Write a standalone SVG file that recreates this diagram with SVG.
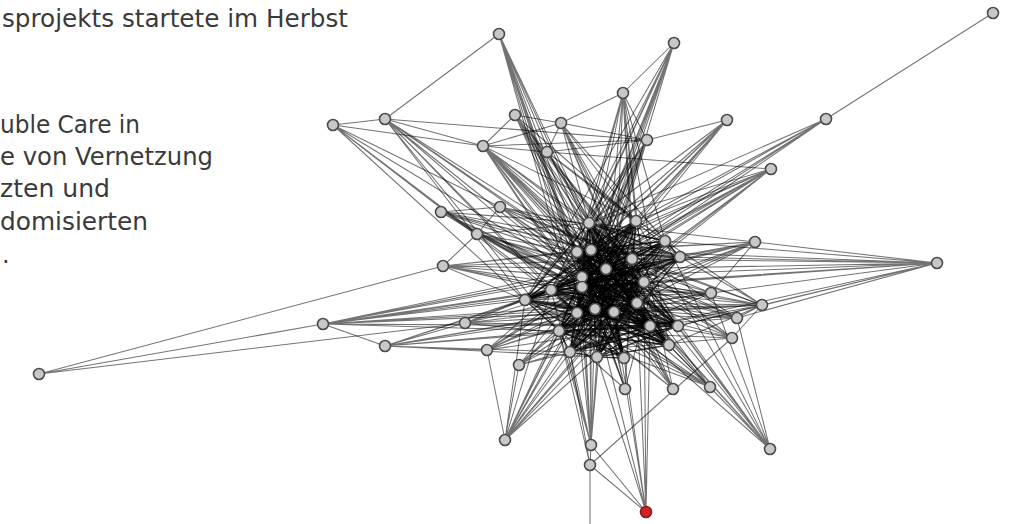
<svg xmlns="http://www.w3.org/2000/svg" width="1011" height="524" viewBox="0 0 1011 524">
<style>
.e{fill:none;stroke:#000;stroke-opacity:0.55;stroke-width:1.05;stroke-linecap:round}
.ei{fill:none;stroke:#000;stroke-opacity:0.75;stroke-width:1.4}
.node circle{fill:#c8c8c8;stroke:#4a4a4a;stroke-width:1.6}
.red circle{fill:#d42027;stroke:#8c1a1a}
.t{font-family:"DejaVu Sans","Liberation Sans",sans-serif;font-size:24px;fill:#3a3a3a}
</style>
<rect width="1011" height="524" fill="#fff"/>
<g id="caption">
<text class="t" x="2" y="27" textLength="346" lengthAdjust="spacingAndGlyphs">sprojekts startete im Herbst</text>
<text class="t" x="0" y="133" textLength="140" lengthAdjust="spacingAndGlyphs">uble Care in</text>
<text class="t" x="0" y="165" textLength="213" lengthAdjust="spacingAndGlyphs">e von Vernetzung</text>
<text class="t" x="0" y="197" textLength="110" lengthAdjust="spacingAndGlyphs">zten und</text>
<text class="t" x="0" y="230" textLength="148" lengthAdjust="spacingAndGlyphs">domisierten</text>
<text class="t" x="2" y="263">.</text>
</g>
<g id="connectors">
<path class="e" d="M993 13L826 119"/>
<path class="e" d="M826 119L589 223M826 119L577 252M826 119L591 250M826 119L606 269M826 119L582 277M826 119L551 290"/>
<path class="e" d="M499 34L385 119M499 34L589 223M499 34L577 252M499 34L591 250M499 34L606 269M499 34L582 277M499 34L582 287M499 34L577 313M499 34L595 309M499 34L597 357M499 34L624 358M499 34L625 389"/>
<path class="e" d="M674 43L623 93M674 43L589 223M674 43L577 252M674 43L591 250M674 43L606 269M674 43L582 277M674 43L582 287M674 43L551 290M674 43L525 300M674 43L577 313M674 43L559 331M674 43L570 352"/>
<path class="e" d="M333 125L385 119M333 125L483 146M333 125L500 207M333 125L477 234M333 125L551 290M333 125L525 300M333 125L582 277M333 125L577 313M333 125L559 331"/>
<path class="e" d="M385 119L483 146M385 119L647 140M385 119L577 252M385 119L551 290M385 119L525 300M385 119L582 277M385 119L582 287M385 119L577 313M385 119L559 331M385 119L591 250M385 119L606 269"/>
<path class="e" d="M623 93L561 123M623 93L647 140M623 93L589 223M623 93L636 221M623 93L665 241M623 93L577 252M623 93L591 250M623 93L632 259M623 93L606 269M623 93L644 282M623 93L637 303M623 93L614 312M623 93L669 345"/>
<path class="e" d="M515 115L547 152M515 115L483 146M515 115L561 123M515 115L589 223M515 115L636 221M515 115L591 250M515 115L632 259M515 115L606 269M515 115L644 282M515 115L637 303M515 115L614 312M515 115L650 326M515 115L678 326M515 115L624 358"/>
<path class="e" d="M561 123L547 152M561 123L483 146M561 123L647 140M561 123L589 223M561 123L636 221M561 123L665 241M561 123L680 257M561 123L632 259M561 123L644 282M561 123L637 303M561 123L650 326M561 123L678 326M561 123L669 345M561 123L673 389"/>
<path class="e" d="M727 120L647 140M727 120L589 223M727 120L577 252M727 120L591 250M727 120L606 269M727 120L582 277M727 120L582 287M727 120L551 290M727 120L636 221"/>
<path class="e" d="M483 146L547 152M483 146L647 140M483 146L589 223M483 146L636 221M483 146L577 252M483 146L591 250M483 146L632 259M483 146L606 269M483 146L582 277M483 146L644 282M483 146L637 303M483 146L595 309M483 146L614 312M483 146L650 326M483 146L678 326M483 146L624 358M483 146L669 345"/>
<path class="e" d="M547 152L647 140M547 152L771 169M547 152L589 223M547 152L636 221M547 152L665 241M547 152L680 257M547 152L632 259M547 152L644 282M547 152L637 303M547 152L650 326M547 152L678 326M547 152L669 345"/>
<path class="e" d="M647 140L589 223M647 140L577 252M647 140L591 250M647 140L606 269M647 140L582 277M647 140L582 287M647 140L551 290M647 140L525 300M647 140L577 313M647 140L595 309M647 140L559 331M647 140L570 352"/>
<path class="e" d="M771 169L589 223M771 169L636 221M771 169L577 252M771 169L591 250M771 169L606 269M771 169L582 277M771 169L582 287M771 169L551 290M771 169L525 300M771 169L577 313M771 169L595 309M771 169L559 331"/>
<path class="e" d="M441 212L500 207M441 212L477 234M441 212L589 223M441 212L577 252M441 212L591 250M441 212L606 269M441 212L582 277M441 212L582 287M441 212L644 282M441 212L637 303M441 212L614 312M441 212L650 326M441 212L678 326M441 212L680 257M441 212L632 259"/>
<path class="e" d="M500 207L477 234M500 207L665 241M500 207L680 257M500 207L632 259M500 207L644 282M500 207L637 303M500 207L650 326M500 207L678 326M500 207L669 345M500 207L762 305M500 207L711 293"/>
<path class="e" d="M477 234L443 266M477 234L589 223M477 234L577 252M477 234L606 269M477 234L582 277M477 234L582 287M477 234L644 282M477 234L637 303M477 234L614 312M477 234L650 326M477 234L737 318"/>
<path class="e" d="M443 266L577 252M443 266L591 250M443 266L606 269M443 266L582 277M443 266L582 287M443 266L644 282M443 266L551 290M443 266L525 300M443 266L637 303M443 266L632 259M443 266L680 257M443 266L665 241"/>
<path class="e" d="M937 263L755 242M937 263L762 305M937 263L665 241M937 263L680 257M937 263L632 259M937 263L644 282M937 263L637 303M937 263L606 269M937 263L591 250M937 263L582 277M937 263L582 287M937 263L551 290M937 263L711 293M937 263L737 318M937 263L678 326M937 263L650 326"/>
<path class="e" d="M755 242L589 223M755 242L577 252M755 242L591 250M755 242L606 269M755 242L582 277M755 242L582 287M755 242L551 290M755 242L525 300M755 242L577 313M755 242L559 331M755 242L644 282M755 242L637 303M755 242L711 293"/>
<path class="e" d="M323 324L385 346M323 324L551 290M323 324L525 300M323 324L582 277M323 324L582 287M323 324L577 313M323 324L595 309M323 324L614 312M323 324L644 282M323 324L637 303M323 324L650 326M323 324L678 326M323 324L606 269M323 324L632 259M323 324L559 331"/>
<path class="e" d="M385 346L551 290M385 346L525 300M385 346L577 313M385 346L595 309M385 346L614 312M385 346L559 331M385 346L570 352M385 346L597 357M385 346L637 303M385 346L650 326M385 346L465 323M385 346L487 350"/>
<path class="e" d="M39 374L443 266M39 374L323 324M39 374L465 323"/>
<path class="e" d="M762 305L665 241M762 305L680 257M762 305L632 259M762 305L644 282M762 305L637 303M762 305L650 326M762 305L678 326M762 305L669 345M762 305L614 312M762 305L595 309M762 305L577 313M762 305L582 287M762 305L582 277M762 305L737 318M762 305L732 338"/>
<path class="e" d="M505 440L582 287M505 440L551 290M505 440L525 300M505 440L577 313M505 440L595 309M505 440L614 312M505 440L606 269M505 440L582 277M505 440L644 282M505 440L637 303M505 440L559 331M505 440L570 352M505 440L597 357M505 440L519 365M505 440L487 350"/>
<path class="e" d="M591 445L590 465M591 445L577 252M591 445L591 250M591 445L582 277M591 445L582 287M591 445L551 290M591 445L577 313M591 445L595 309M591 445L559 331M591 445L570 352M591 445L597 357M591 445L589 223M591 445L606 269"/>
<path class="e" d="M590 465L732 338M590 465L590 524M590 465L559 331M590 465L570 352"/>
<path class="e" d="M646 512L591 445M646 512L590 465M646 512L637 303M646 512L614 312M646 512L650 326M646 512L597 357M646 512L624 358M646 512L595 309M646 512L644 282"/>
<path class="e" d="M770 449L589 223M770 449L636 221M770 449L591 250M770 449L632 259M770 449L606 269M770 449L644 282M770 449L637 303M770 449L614 312M770 449L650 326M770 449L678 326M770 449L669 345M770 449L665 241M770 449L737 318M770 449L711 293"/>
<path class="e" d="M710 387L589 223M710 387L577 252M710 387L591 250M710 387L606 269M710 387L582 277M710 387L551 290M710 387L525 300M710 387L577 313M710 387L595 309M710 387L559 331"/>
<path class="e" d="M673 389L589 223M673 389L636 221M673 389L577 252M673 389L591 250M673 389L606 269M673 389L582 277M673 389L551 290M673 389L577 313"/>
<path class="e" d="M625 389L589 223M625 389L636 221M625 389L665 241M625 389L577 252M625 389L591 250M625 389L632 259M625 389L582 277M625 389L525 300"/>
<path class="e" d="M487 350L636 221M487 350L665 241M487 350L680 257M487 350L632 259M487 350L606 269M487 350L644 282M487 350L637 303M487 350L614 312M487 350L650 326"/>
<path class="e" d="M519 365L636 221M519 365L665 241M519 365L680 257M519 365L632 259M519 365L644 282M519 365L637 303M519 365L650 326M519 365L678 326"/>
<path class="e" d="M465 323L665 241M465 323L680 257M465 323L632 259M465 323L644 282M465 323L637 303M465 323L650 326M465 323L678 326M465 323L669 345M465 323L762 305"/>
<path class="e" d="M711 293L577 252M711 293L582 277M711 293L582 287M711 293L551 290M711 293L525 300M711 293L577 313M711 293L559 331M711 293L570 352"/>
<path class="e" d="M737 318L589 223M737 318L577 252M737 318L591 250M737 318L582 277M737 318L551 290M737 318L525 300M737 318L577 313M737 318L559 331"/>
<path class="e" d="M732 338L589 223M732 338L577 252M732 338L591 250M732 338L582 277M732 338L551 290M732 338L525 300M732 338L559 331M732 338L570 352"/>
<path class="ei" d="M589 223L665 241M589 223L680 257M589 223L632 259M589 223L582 287M589 223L525 300M589 223L637 303M589 223L577 313M589 223L614 312M589 223L678 326M589 223L570 352M589 223L597 357M589 223L624 358M589 223L669 345M589 223L591 250M589 223L606 269"/>
<path class="ei" d="M636 221L577 252M636 221L582 277M636 221L582 287M636 221L551 290M636 221L525 300M636 221L577 313M636 221L595 309M636 221L559 331M636 221L570 352M636 221L597 357M636 221L632 259M636 221L606 269"/>
<path class="ei" d="M665 241L577 252M665 241L582 277M665 241L551 290M665 241L525 300M665 241L577 313M665 241L595 309M665 241L559 331M665 241L570 352M665 241L597 357M665 241L680 257M665 241L632 259"/>
<path class="ei" d="M680 257L577 252M680 257L591 250M680 257L582 277M680 257L582 287M680 257L551 290M680 257L525 300M680 257L577 313M680 257L559 331M680 257L570 352M680 257L597 357"/>
<path class="ei" d="M577 252L632 259M577 252L644 282M577 252L637 303M577 252L614 312M577 252L650 326M577 252L678 326M577 252L624 358M577 252L669 345M577 252L582 277"/>
<path class="ei" d="M591 250L644 282M591 250L525 300M591 250L637 303M591 250L650 326M591 250L678 326M591 250L559 331M591 250L570 352M591 250L624 358M591 250L669 345M591 250L606 269"/>
<path class="ei" d="M632 259L582 277M632 259L582 287M632 259L551 290M632 259L525 300M632 259L577 313M632 259L559 331M632 259L570 352M632 259L597 357M632 259L644 282"/>
<path class="ei" d="M606 269L551 290M606 269L525 300M606 269L650 326M606 269L678 326M606 269L559 331M606 269L570 352M606 269L597 357M606 269L624 358M606 269L669 345M606 269L595 309"/>
<path class="ei" d="M582 277L644 282M582 277L637 303M582 277L650 326M582 277L678 326M582 277L669 345M582 287L644 282M582 287L637 303M582 287L650 326M582 287L678 326M582 287L669 345M582 287L665 241M582 287L577 313"/>
<path class="ei" d="M644 282L551 290M644 282L525 300M644 282L577 313M644 282L559 331M644 282L570 352M644 282L597 357M644 282L637 303"/>
<path class="ei" d="M551 290L637 303M551 290L614 312M551 290L650 326M551 290L678 326M551 290L669 345M551 290L624 358M525 300L595 309M525 300L614 312M525 300L650 326M525 300L678 326M525 300L624 358M525 300L669 345M551 290L525 300M551 290L577 313"/>
<path class="ei" d="M637 303L577 313M637 303L559 331M637 303L570 352M637 303L597 357M577 313L650 326M577 313L678 326M577 313L669 345M595 309L650 326M595 309L678 326M595 309L669 345M614 312L559 331M614 312L570 352M637 303L650 326"/>
<path class="ei" d="M650 326L559 331M650 326L570 352M650 326L597 357M678 326L559 331M678 326L570 352M678 326L597 357M559 331L624 358M559 331L669 345M597 357L669 345M559 331L570 352M570 352L597 357M597 357L624 358M614 312L624 358M650 326L669 345"/>
</g>
<g id="nodes">
<g id="n-a" class="node"><circle cx="993" cy="13" r="5.5"/></g>
<g id="n-b" class="node"><circle cx="499" cy="34" r="5.5"/></g>
<g id="n-c" class="node"><circle cx="674" cy="43" r="5.5"/></g>
<g id="n-d" class="node"><circle cx="333" cy="125" r="5.5"/></g>
<g id="n-e" class="node"><circle cx="385" cy="119" r="5.5"/></g>
<g id="n-f" class="node"><circle cx="623" cy="93" r="5.5"/></g>
<g id="n-g" class="node"><circle cx="515" cy="115" r="5.5"/></g>
<g id="n-h" class="node"><circle cx="561" cy="123" r="5.5"/></g>
<g id="n-i" class="node"><circle cx="727" cy="120" r="5.5"/></g>
<g id="n-j" class="node"><circle cx="826" cy="119" r="5.5"/></g>
<g id="n-k" class="node"><circle cx="483" cy="146" r="5.5"/></g>
<g id="n-l" class="node"><circle cx="547" cy="152" r="5.5"/></g>
<g id="n-m" class="node"><circle cx="647" cy="140" r="5.5"/></g>
<g id="n-n" class="node"><circle cx="771" cy="169" r="5.5"/></g>
<g id="n-o" class="node"><circle cx="441" cy="212" r="5.5"/></g>
<g id="n-p" class="node"><circle cx="500" cy="207" r="5.5"/></g>
<g id="n-q" class="node"><circle cx="477" cy="234" r="5.5"/></g>
<g id="n-r" class="node"><circle cx="443" cy="266" r="5.5"/></g>
<g id="n-s" class="node"><circle cx="937" cy="263" r="5.5"/></g>
<g id="n-t" class="node"><circle cx="755" cy="242" r="5.5"/></g>
<g id="n-u" class="node"><circle cx="323" cy="324" r="5.5"/></g>
<g id="n-v" class="node"><circle cx="385" cy="346" r="5.5"/></g>
<g id="n-w" class="node"><circle cx="39" cy="374" r="5.5"/></g>
<g id="n-x" class="node"><circle cx="762" cy="305" r="5.5"/></g>
<g id="n-y" class="node"><circle cx="505" cy="440" r="5.5"/></g>
<g id="n-z" class="node"><circle cx="591" cy="445" r="5.5"/></g>
<g id="n-aa" class="node"><circle cx="590" cy="465" r="5.5"/></g>
<g id="n-ab" class="node red"><circle cx="646" cy="512" r="5.5"/></g>
<g id="n-ac" class="node"><circle cx="770" cy="449" r="5.5"/></g>
<g id="n-ad" class="node"><circle cx="710" cy="387" r="5.5"/></g>
<g id="n-ae" class="node"><circle cx="673" cy="389" r="5.5"/></g>
<g id="n-af" class="node"><circle cx="625" cy="389" r="5.5"/></g>
<g id="n-ag" class="node"><circle cx="487" cy="350" r="5.5"/></g>
<g id="n-ah" class="node"><circle cx="519" cy="365" r="5.5"/></g>
<g id="n-ai" class="node"><circle cx="465" cy="323" r="5.5"/></g>
<g id="n-aj" class="node"><circle cx="711" cy="293" r="5.5"/></g>
<g id="n-ak" class="node"><circle cx="737" cy="318" r="5.5"/></g>
<g id="n-al" class="node"><circle cx="732" cy="338" r="5.5"/></g>
<g id="n-c1" class="node"><circle cx="589" cy="223" r="5.5"/></g>
<g id="n-c2" class="node"><circle cx="636" cy="221" r="5.5"/></g>
<g id="n-c3" class="node"><circle cx="665" cy="241" r="5.5"/></g>
<g id="n-c4" class="node"><circle cx="680" cy="257" r="5.5"/></g>
<g id="n-c5" class="node"><circle cx="577" cy="252" r="5.5"/></g>
<g id="n-c6" class="node"><circle cx="591" cy="250" r="5.5"/></g>
<g id="n-c7" class="node"><circle cx="632" cy="259" r="5.5"/></g>
<g id="n-c8" class="node"><circle cx="606" cy="269" r="5.5"/></g>
<g id="n-c9" class="node"><circle cx="582" cy="277" r="5.5"/></g>
<g id="n-c10" class="node"><circle cx="582" cy="287" r="5.5"/></g>
<g id="n-c11" class="node"><circle cx="644" cy="282" r="5.5"/></g>
<g id="n-c12" class="node"><circle cx="551" cy="290" r="5.5"/></g>
<g id="n-c13" class="node"><circle cx="525" cy="300" r="5.5"/></g>
<g id="n-c14" class="node"><circle cx="637" cy="303" r="5.5"/></g>
<g id="n-c15" class="node"><circle cx="577" cy="313" r="5.5"/></g>
<g id="n-c16" class="node"><circle cx="595" cy="309" r="5.5"/></g>
<g id="n-c17" class="node"><circle cx="614" cy="312" r="5.5"/></g>
<g id="n-c18" class="node"><circle cx="650" cy="326" r="5.5"/></g>
<g id="n-c19" class="node"><circle cx="678" cy="326" r="5.5"/></g>
<g id="n-c20" class="node"><circle cx="559" cy="331" r="5.5"/></g>
<g id="n-c21" class="node"><circle cx="570" cy="352" r="5.5"/></g>
<g id="n-c22" class="node"><circle cx="597" cy="357" r="5.5"/></g>
<g id="n-c23" class="node"><circle cx="624" cy="358" r="5.5"/></g>
<g id="n-c24" class="node"><circle cx="669" cy="345" r="5.5"/></g>
</g>
</svg>
